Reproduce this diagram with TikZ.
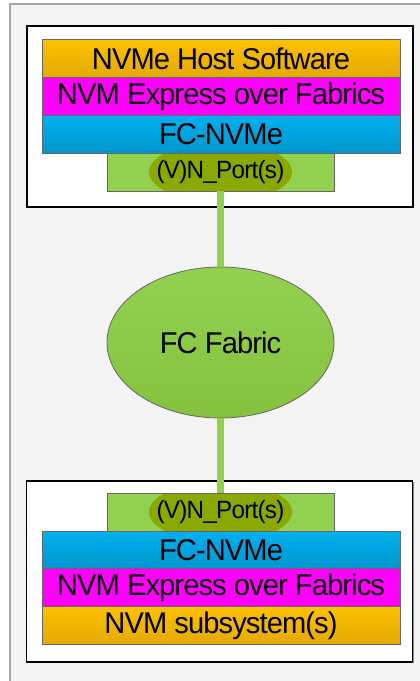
\documentclass[tikz,border=0pt]{standalone}
\usepackage{fontspec}
\setmainfont{Liberation Sans}[FakeStretch=0.97,LetterSpace=-3]
\usetikzlibrary{shapes.geometric,shadows,positioning}
\definecolor{swOrange}{HTML}{FFC000}
\definecolor{swOrangeDk}{HTML}{E3A900}
\definecolor{swMagenta}{HTML}{FF00FF}
\definecolor{swCyan}{HTML}{00B0F0}
\definecolor{swCyanDk}{HTML}{0096CC}
\definecolor{swGreen}{HTML}{92D050}
\definecolor{swGreenDk}{HTML}{84C23E}
\definecolor{swOlive}{HTML}{8AA800}
\definecolor{swPanel}{HTML}{F3F3F3}

\begin{document}
\begin{tikzpicture}[x=1pt, y=-1pt
    , layer/.style = {rectangle,draw=black!60,line width=0.8pt,minimum width=358pt,minimum height=38pt,
        inner sep=0pt,outer sep=0pt,font=\fontsize{30}{32}\selectfont}
    , portbox/.style = {rectangle,draw=black!60,line width=0.8pt,fill=swGreen,minimum width=227pt,
        minimum height=38pt,inner sep=0pt,outer sep=0pt,font=\fontsize{25}{27}\selectfont,
        path picture={\fill[swOlive] (path picture bounding box.center) ellipse (71.5pt and 30pt);}}
    , hostbox/.style = {rectangle,draw=black,line width=1.6pt,fill=white,minimum width=386pt,
        minimum height=181pt,outer sep=0pt,drop shadow={shadow xshift=1pt,shadow yshift=-1pt,fill=black!45,opacity=1}}
    , link/.style = {draw=swGreen,line width=6.5pt}
]
\useasboundingbox (0,0) rectangle (420,681);
% panel behind everything
\filldraw[fill=swPanel,draw=black!35,line width=1.3pt] (10,4) rectangle (430,700);

% host side
\node[hostbox] (host) at (220,116.5) {};
\foreach \txt/\c/\d [count=\j from 0] in {NVMe Host Software/swOrange/swOrangeDk,
        NVM Express over Fabrics/swMagenta/swMagenta, FC-NVMe/swCyan/swCyanDk}
    \node[layer,top color=\c,bottom color=\d] (hostL\j) at (221, 58.5 + 38*\j) {\txt};
\node[portbox] (hostport) at (220.5,172) {(V)N\_Port(s)};

% subsystem side
\node[hostbox] (subsys) at (219.5,571.5) {};
\node[portbox] (subport) at (220.5,512) {(V)N\_Port(s)};
\foreach \txt/\c/\d [count=\j from 0] in {FC-NVMe/swCyan/swCyanDk,
        NVM Express over Fabrics/swMagenta/swMagenta, NVM subsystem(s)/swOrange/swOrangeDk}
    \node[layer,top color=\c,bottom color=\d] (subL\j) at (221, 550 + 37.7*\j) {\txt};

% fabric
\node[ellipse,draw=black!60,line width=0.8pt,top color=swGreen,bottom color=swGreenDk,
    minimum width=227pt,minimum height=151pt,font=\fontsize{30}{32}\selectfont] (fabric) at (220.5,342.5) {FC Fabric};

\draw[link] (hostport.south) -- (fabric.north);
\draw[link] (fabric.south) -- (subport.north);
\end{tikzpicture}
\end{document}
